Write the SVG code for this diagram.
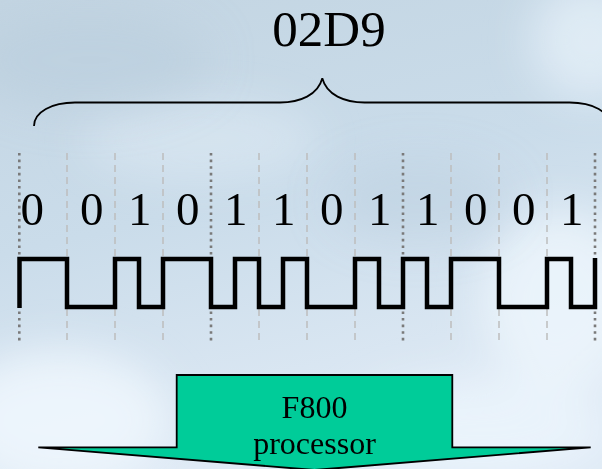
<svg xmlns="http://www.w3.org/2000/svg" width="602" height="469" viewBox="0 0 602 469">
  <defs>
    <linearGradient id="sky" x1="0" y1="0" x2="0.3" y2="1">
      <stop offset="0" stop-color="#c3d5e2"/>
      <stop offset="0.5" stop-color="#cadcea"/>
      <stop offset="1" stop-color="#dfeaf5"/>
    </linearGradient>
    <filter id="soft" x="-50%" y="-50%" width="200%" height="200%">
      <feGaussianBlur stdDeviation="22"/>
    </filter>
    <style>
      .serif { font-family: "Liberation Serif", "Times New Roman", serif; fill: #000; }
      .bit { font-size: 47px; }
      .major { stroke: #7a7a7a; stroke-width: 2.6; stroke-dasharray: 2.6 4; }
      .minor { stroke: #bdbdbd; stroke-width: 1.5; stroke-dasharray: 7 5; }
      .wave { fill: none; stroke: #000; stroke-width: 4.5; stroke-linejoin: miter; }
      .brace { fill: none; stroke: #000; stroke-width: 1.8; }
      .arrow { fill: #00cc99; stroke: #000; stroke-width: 1.8; stroke-linejoin: miter; }
    </style>
  </defs>

  <!-- sky background with soft cloud patches -->
  <rect width="602" height="469" fill="url(#sky)"/>
  <g filter="url(#soft)" fill="#eef6fd">
    <ellipse cx="60" cy="420" rx="110" ry="70" opacity="0.9"/>
    <ellipse cx="560" cy="300" rx="80" ry="90" opacity="0.8"/>
    <ellipse cx="480" cy="430" rx="130" ry="50" opacity="0.7"/>
    <ellipse cx="200" cy="140" rx="120" ry="40" opacity="0.35"/>
    <ellipse cx="590" cy="40" rx="60" ry="60" opacity="0.6"/>
  </g>
  <g filter="url(#soft)" fill="#b7cbdb">
    <ellipse cx="90" cy="60" rx="120" ry="50" opacity="0.5"/>
    <ellipse cx="420" cy="200" rx="90" ry="40" opacity="0.4"/>
  </g>

  <!-- title and brace -->
  <g id="title">
    <text class="serif" x="329" y="45.5" font-size="51" text-anchor="middle">02D9</text>
    <path class="brace" d="M34,126 C34,112 52,102.5 75,102.5 H280 C300,102.5 318,95 322.3,78.3 C326.6,95 344.6,102.5 364.6,102.5 H569.6 C592.6,102.5 610.6,112 610.6,126"/>
  </g>

  <!-- bit cell grid -->
  <g id="grid">
    <line class="major" x1="19.3" y1="153" x2="19.3" y2="343"/>
    <line class="minor" x1="67" y1="153" x2="67" y2="343"/>
    <line class="minor" x1="115" y1="153" x2="115" y2="343"/>
    <line class="minor" x1="163" y1="153" x2="163" y2="343"/>
    <line class="major" x1="211" y1="153" x2="211" y2="343"/>
    <line class="minor" x1="259" y1="153" x2="259" y2="343"/>
    <line class="minor" x1="307" y1="153" x2="307" y2="343"/>
    <line class="minor" x1="355" y1="153" x2="355" y2="343"/>
    <line class="major" x1="403" y1="153" x2="403" y2="343"/>
    <line class="minor" x1="451" y1="153" x2="451" y2="343"/>
    <line class="minor" x1="499" y1="153" x2="499" y2="343"/>
    <line class="minor" x1="547" y1="153" x2="547" y2="343"/>
    <line class="major" x1="595" y1="153" x2="595" y2="343"/>
  </g>

  <!-- bit values -->
  <g id="bits" class="serif bit">
    <text x="20.5" y="225">0</text>
    <text x="80" y="225">0</text>
    <text x="128" y="225">1</text>
    <text x="176" y="225">0</text>
    <text x="224" y="225">1</text>
    <text x="272" y="225">1</text>
    <text x="320" y="225">0</text>
    <text x="368" y="225">1</text>
    <text x="416" y="225">1</text>
    <text x="464" y="225">0</text>
    <text x="512" y="225">0</text>
    <text x="560" y="225">1</text>
  </g>

  <!-- line signal -->
  <g id="waveform">
    <path class="wave" d="M19.5,308 V259 H67 V307 H115 V259 H139 V307 H163 V259 H211 V307 H235 V259 H259 V307 H283 V259 H307 V307 H355 V259 H379 V307 H403 V259 H427 V307 H451 V259 H499 V307 H547 V259 H571 V307 H595 V258"/>
  </g>

  <!-- processor arrow -->
  <g id="processor">
    <path class="arrow" d="M176.7,375 H452.3 V447.3 H590.7 L314.5,470 L38.3,447.3 H176.7 Z"/>
    <text class="serif" x="314.5" y="418" font-size="32" text-anchor="middle">F800</text>
    <text class="serif" x="314.5" y="454" font-size="32" text-anchor="middle">processor</text>
  </g>
</svg>
